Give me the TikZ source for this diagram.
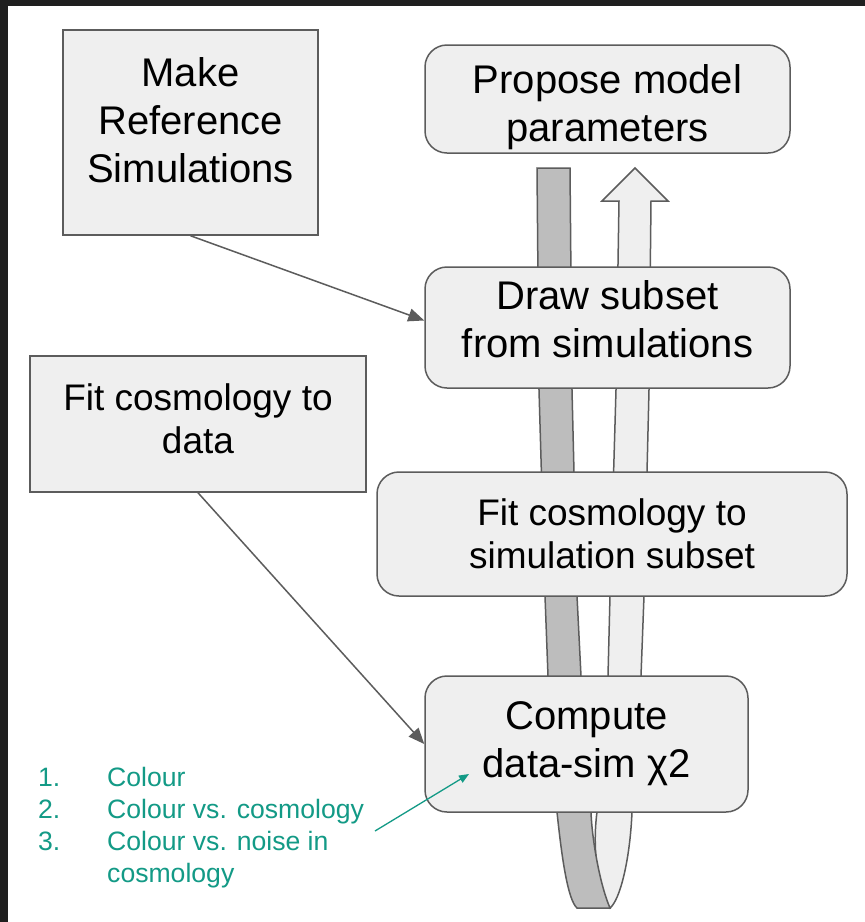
\documentclass[tikz,border=0pt]{standalone}
\usepackage{fontspec}
\setmainfont{Liberation Sans}
\usetikzlibrary{arrows.meta,calc}
\definecolor{boxfill}{HTML}{EFEFEF}
\definecolor{boxline}{HTML}{5C5C5C}
\definecolor{darkband}{HTML}{BDBDBD}
\definecolor{listteal}{HTML}{139A86}
\definecolor{framecol}{HTML}{1F1F1F}
\begin{document}
\begin{tikzpicture}[x=1pt,y=-1pt]
\tikzset{sqbox/.style = {draw=boxline,fill=boxfill,line width=1.5pt,align=center,inner sep=0pt,font=\fontsize{40}{48}\selectfont}}
\tikzset{rbox/.style = {sqbox,rounded corners=22pt}}
\tikzset{fitfont/.style = {font=\fontsize{37}{43}\selectfont}}
\tikzset{band/.style = {draw=boxline,line width=1.5pt}}
\tikzset{link/.style = {draw=boxline,line width=1.5pt,-{Triangle[length=16pt,width=13pt]}}}
\tikzset{item/.style = {text=listteal,anchor=base west,inner sep=0pt,font=\fontsize{26.6}{32}\selectfont}}
% screen frame
\fill[framecol] (0,0) rectangle (865,922);
\fill[white] (8,6) rectangle (865,922);
\useasboundingbox (0,0) rectangle (865,922);
% light band coming back up
\draw[band,fill=boxfill] (635,168) -- (668,201) -- (651,201) -- (649,390) -- (644,596) -- (641,676) -- (632,812)
  .. controls (630,860) and (620,900) .. (610,908)
  .. controls (598,890) and (592,850) .. (597,812) -- (608,676) -- (610,596) -- (616,390) -- (619,201) -- (602,201) -- cycle;
% dark band going down
\draw[band,fill=darkband] (537,168) -- (570,168) -- (572,390) -- (577,596) -- (581,676) -- (591,812)
  .. controls (592,840) and (600,885) .. (610,908) -- (577,908)
  .. controls (568,900) and (562,860) .. (557,812) -- (548,676) -- (545,596) -- (539,390) -- cycle;
% boxes on the left
\node[sqbox,text depth=25pt,minimum width=255pt,minimum height=205pt] (make) at (190.5,132.5) {Make\\Reference\\Simulations};
\node[sqbox,fitfont,text depth=10pt,minimum width=336pt,minimum height=136pt] (fitdata) at (198,424) {Fit cosmology to\\data};
% boxes on the loop
\node[rbox,text height=84pt,text depth=0pt,minimum width=365pt,minimum height=108pt] (propose) at (607.5,99) {Propose model\\parameters};
\node[rbox,text depth=16pt,minimum width=365pt,minimum height=121pt] (drawsub) at (607.5,327.5) {Draw subset\\from simulations};
\node[rbox,fitfont,minimum width=470pt,minimum height=124pt] (fitsim) at (612,534) {Fit cosmology to\\simulation subset};
\node[rbox,minimum width=323pt,minimum height=136pt] (compute) at (586.5,744) {Compute\\data-sim χ2};
% inputs
\draw[link] (make.south) -- ($(drawsub.west)+(0,-7)$);
\draw[link] (fitdata.south) -- (compute.west);
% list of tests
\node[item] (n1) at (38,786) {1.};
\node[item] (n2) at (38,818) {2.};
\node[item] (n3) at (38,850) {3.};
\node[item] (i1) at (107,786) {Colour};
\node[item] (i2) at (107,818) {Colour vs. cosmology};
\node[item] (i3) at (107,850) {Colour vs. noise in};
\node[item] (i4) at (107,882) {cosmology};
\coordinate (tealstart) at (375,831);
\coordinate (tealtip) at (469,774);
\draw[listteal,line width=1.3pt,-{Triangle[length=10pt,width=8pt]}] (tealstart) -- (tealtip);
\end{tikzpicture}
\end{document}
